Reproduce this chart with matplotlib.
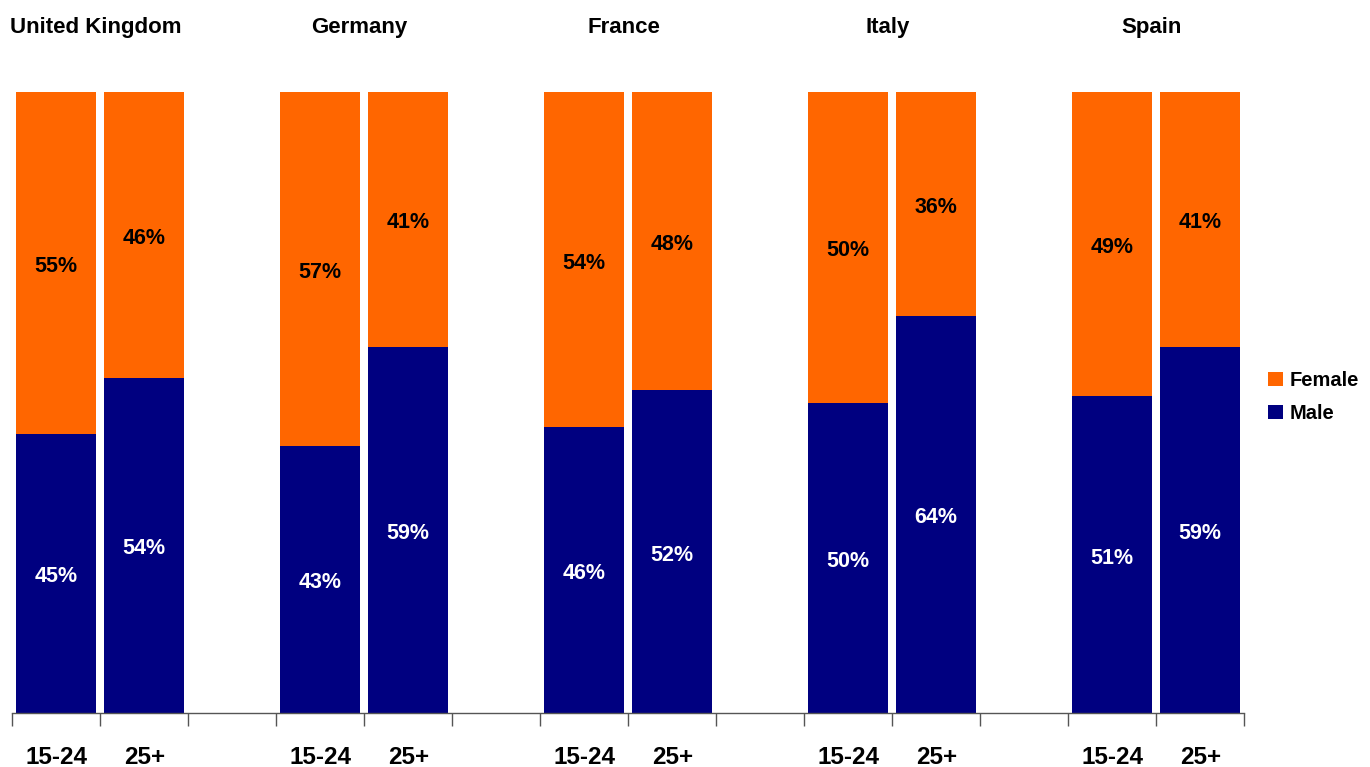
import matplotlib
matplotlib.use("Agg")
import matplotlib.pyplot as plt
import matplotlib.transforms as mtransforms
import numpy as np

plt.rcParams['font.family'] = ['Liberation Sans', 'DejaVu Sans']

countries = ["United Kingdom", "Germany", "France", "Italy", "Spain"]
age_groups = ["15-24", "25+"]
male = [[45, 54], [43, 59], [46, 52], [50, 64], [51, 59]]
female = [[55, 46], [57, 41], [54, 48], [50, 36], [49, 41]]

c_female = "#FF6600"
c_male = "#000080"

fig = plt.figure(figsize=(13.7, 7.67), dpi=100)
ax = fig.add_axes([12/1370, 1-713/767, (1244-12)/1370, (713-92)/767])

shift = mtransforms.offset_copy(ax.transData, fig=fig, x=0, y=-3.5, units="dots")

n_slots = len(countries) * 3 - 1
width = 0.91
for i, c in enumerate(countries):
    for j, ag in enumerate(age_groups):
        x = i * 3 + j
        m = male[i][j]
        f = female[i][j]
        ax.bar(x, m, width=width, color=c_male, label="Male" if (i == 0 and j == 0) else None)
        ax.bar(x, f, bottom=m, width=width, color=c_female, label="Female" if (i == 0 and j == 0) else None)
        ax.text(x, m / 2, f"{m}%", ha="center", va="center", color="white",
                fontsize=15.5, fontweight="bold", transform=shift)
        ax.text(x, m + f / 2, f"{f}%", ha="center", va="center", color="black",
                fontsize=15.5, fontweight="bold", transform=shift)
        ax.text(x + 0.01, -6.6, ag, ha="center", va="center", color="black",
                fontsize=17.5, fontweight="bold", transform=shift, clip_on=False)
    ax.text(i * 3 + 0.45, 110.9, c, ha="center", va="center", color="black",
            fontsize=16, fontweight="bold", transform=shift, clip_on=False)

ax.set_xlim(-0.5, n_slots - 0.5)
ax.set_ylim(0, 100)
ax.set_xticks(np.arange(-0.5, n_slots, 1.0))
ax.set_xticklabels([])
ax.set_yticks([])
for s in ["top", "right", "left"]:
    ax.spines[s].set_visible(False)
ax.spines["bottom"].set_color("#555555")
ax.spines["bottom"].set_linewidth(1.0)
ax.tick_params(axis="x", length=9, color="#555555", width=1.0)

handles, labels = ax.get_legend_handles_labels()
order = [labels.index("Female"), labels.index("Male")]
leg = fig.legend([handles[k] for k in order], [labels[k] for k in order],
                 loc="center left", bbox_to_anchor=(1250/1370, 1-397/767),
                 frameon=False, prop={"weight": "bold", "size": 14.5},
                 handlelength=0.75, handleheight=0.75, handletextpad=0.3,
                 labelspacing=0.7)

fig.savefig("out.png", dpi=100)
